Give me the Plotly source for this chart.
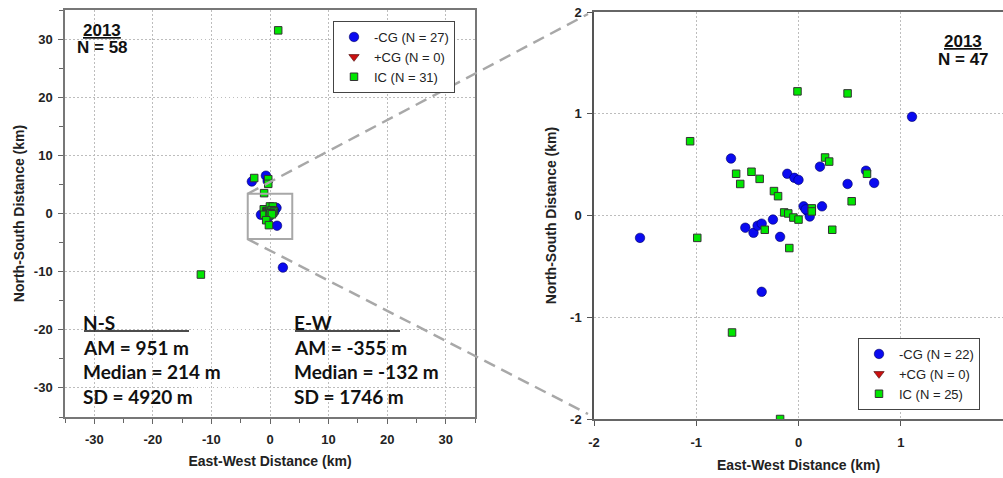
import plotly.graph_objects as go

W, H = 1003, 478

# ---------------- data (km) ----------------
# Zoomed panel (within +/-2 km): 22 -CG, 0 +CG, 25 IC
cg_zoom_x = [-0.66, -1.55, -0.52, -0.44, -0.40, -0.36, -0.25, -0.18, -0.11, -0.04, 0.00,
             1.11, 0.21, 0.66, 0.48, 0.74, 0.05, 0.09, 0.11, 0.23, -0.36, 0.07]
cg_zoom_y = [0.56, -0.22, -0.12, -0.17, -0.10, -0.08, -0.04, -0.21, 0.41, 0.37, 0.35,
             0.97, 0.48, 0.44, 0.31, 0.32, 0.09, 0.04, -0.01, 0.09, -0.75, 0.06]
pcg_zoom_x = []
pcg_zoom_y = []
ic_zoom_x = [-1.06, -0.61, -0.57, -0.46, -0.38, -0.24, -0.20, -0.14, -0.10, -0.05, 0.00,
             -0.33, -0.99, -0.09, -0.01, 0.48, 0.26, 0.30, 0.67, 0.52, 0.13, 0.13, 0.33,
             -0.65, -0.18]
ic_zoom_y = [0.73, 0.41, 0.31, 0.43, 0.36, 0.24, 0.19, 0.03, 0.02, -0.02, -0.04,
             -0.14, -0.22, -0.32, 1.22, 1.20, 0.57, 0.53, 0.41, 0.14, 0.07, 0.04, -0.14,
             -1.15, -2.00]

# Additional flashes outside the zoom window (full panel only)
cg_out_x = [-3.1, -0.7, -0.4, 1.2, 2.2]
cg_out_y = [5.5, 6.5, 5.6, -2.1, -9.3]
ic_out_x = [1.4, -11.8, -2.7, -0.3, -0.3, -1.0]
ic_out_y = [31.5, -10.5, 6.1, 5.9, 5.1, 3.5]

cg_all_x = cg_zoom_x + cg_out_x
cg_all_y = cg_zoom_y + cg_out_y
pcg_all_x = pcg_zoom_x
pcg_all_y = pcg_zoom_y
ic_all_x = ic_zoom_x + ic_out_x
ic_all_y = ic_zoom_y + ic_out_y

year = "2013"
ns_stats = ["AM = 951 m", "Median = 214 m", "SD = 4920 m"]
ew_stats = ["AM = -355 m", "Median = -132 m", "SD = 1746 m"]

left_ticks = [-30, -20, -10, 0, 10, 20, 30]
left_labels = ["-30", "-20", "-10", "0", "10", "20", "30"]
right_ticks = [-2, -1, 0, 1, 2]
right_labels = ["-2", "-1", "0", "1", "2"]

# ---------------- layout geometry ----------------
def fx(px):
    return px / W

def fy(py):
    return 1 - py / H

xd1 = [fx(65), fx(475)]
yd1 = [fy(417), fy(10)]
xd2 = [fx(594), 1.0]
yd2 = [fy(419), fy(12)]
r1 = [-35, 35]
r2 = [-2, 2]

BLUE = "#0a0af0"
GREEN = "#00e600"
RED = "#cc1010"

def pts(v):
    return v if len(v) else [None]

fig = go.Figure()

def add_set(sets, xa, ya, legend, labels):
    (cgx, cgy), (pcx, pcy), (icx, icy) = sets
    fig.add_trace(go.Scatter(x=pts(cgx), y=pts(cgy), mode="markers", name=labels[0],
                             xaxis=xa, yaxis=ya, legend=legend,
                             marker=dict(symbol="circle", size=9.5, color=BLUE,
                                         line=dict(color="#000060", width=0.6))))
    fig.add_trace(go.Scatter(x=pts(pcx), y=pts(pcy), mode="markers", name=labels[1],
                             xaxis=xa, yaxis=ya, legend=legend,
                             marker=dict(symbol="triangle-down", size=9, color=RED,
                                         line=dict(color="#400000", width=0.6))))
    fig.add_trace(go.Scatter(x=pts(icx), y=pts(icy), mode="markers", name=labels[2],
                             xaxis=xa, yaxis=ya, legend=legend,
                             marker=dict(symbol="square", size=7.5, color=GREEN,
                                         line=dict(color="#333333", width=1))))

add_set([(cg_all_x, cg_all_y), (pcg_all_x, pcg_all_y), (ic_all_x, ic_all_y)], "x", "y", "legend",
        [f"-CG (N = {len(cg_all_x)})", f"+CG (N = {len(pcg_all_x)})", f"IC (N = {len(ic_all_x)})"])
add_set([(cg_zoom_x, cg_zoom_y), (pcg_zoom_x, pcg_zoom_y), (ic_zoom_x, ic_zoom_y)], "x2", "y2", "legend2",
        [f"-CG (N = {len(cg_zoom_x)})", f"+CG (N = {len(pcg_zoom_x)})", f"IC (N = {len(ic_zoom_x)})"])

FONT = "Liberation Sans, Arial, sans-serif"
tickfont = dict(family=FONT, size=13, color="#222", weight="bold")
titlefont = dict(family=FONT, size=14, color="#222", weight="bold")
GRID = dict(showgrid=True, gridcolor="#bdbdbd", griddash="1.5px,2.5px", gridwidth=1.2, zeroline=False,
            automargin=False)

fig.update_layout(
    template="none",
    width=W, height=H,
    margin=dict(l=0, r=0, t=0, b=0, pad=0, autoexpand=False),
    paper_bgcolor="white", plot_bgcolor="white",
    showlegend=True,
    font=dict(family=FONT),
    xaxis=dict(domain=xd1, range=r1, tickvals=left_ticks, ticktext=left_labels, ticks="outside", ticklen=5,
               tickcolor="#666", linecolor="#777", linewidth=1.5, mirror=True, showline=True,
               tickfont=tickfont, anchor="y", ticklabelstandoff=5,
               minor=dict(dtick=5, tick0=0, ticks="outside", ticklen=4, tickcolor="#666", showgrid=False),
               title=dict(text="East-West Distance (km)", font=titlefont, standoff=10), **GRID),
    yaxis=dict(domain=yd1, range=r1, tickvals=left_ticks, ticktext=left_labels, ticks="outside", ticklen=5,
               tickcolor="#666", linecolor="#777", linewidth=1.5, mirror=True, showline=True,
               tickfont=tickfont, anchor="x", ticklabelstandoff=3,
               minor=dict(dtick=5, tick0=0, ticks="outside", ticklen=4, tickcolor="#666", showgrid=False),
               title=dict(text="North-South Distance (km)", font=titlefont, standoff=6), **GRID),
    xaxis2=dict(domain=xd2, range=r2, tickvals=right_ticks, ticktext=right_labels, ticks="outside", ticklen=5,
                tickcolor="#555", linecolor="#666", linewidth=1.5, mirror=True, showline=True,
                tickfont=tickfont, anchor="y2", ticklabelstandoff=6,
                title=dict(text="East-West Distance (km)", font=titlefont, standoff=11), **GRID),
    yaxis2=dict(domain=yd2, range=r2, tickvals=right_ticks, ticktext=right_labels, ticks="outside", ticklen=5,
                tickcolor="#555", linecolor="#555", linewidth=1.5, showline=True,
                tickfont=tickfont, anchor="x2", ticklabelstandoff=3,
                title=dict(text="North-South Distance (km)", font=titlefont, standoff=10), **GRID),
    legend=dict(x=fx(333), y=fy(21), xanchor="left", yanchor="top",
                bgcolor="white", bordercolor="#444", borderwidth=1,
                font=dict(family=FONT, size=13, color="#222"), itemwidth=30,
                tracegroupgap=0),
    legend2=dict(x=fx(858), y=fy(338), xanchor="left", yanchor="top",
                 bgcolor="white", bordercolor="#444", borderwidth=1,
                 font=dict(family=FONT, size=13, color="#222"), itemwidth=30,
                 tracegroupgap=0),
)

# ---------------- annotations ----------------
hdr_font = dict(family=FONT, size=17, color="#111", weight="bold")
n_all = len(cg_all_x) + len(pcg_all_x) + len(ic_all_x)
n_zoom = len(cg_zoom_x) + len(pcg_zoom_x) + len(ic_zoom_x)
for cx, cy, n in [(102, 30, n_all), (963, 42, n_zoom)]:
    fig.add_annotation(xref="paper", yref="paper", x=fx(cx), y=fy(cy), xanchor="center", yanchor="middle",
                       text=f"<u>{year}</u>", showarrow=False, font=hdr_font)
    fig.add_annotation(xref="paper", yref="paper", x=fx(cx), y=fy(cy + 17), xanchor="center", yanchor="middle",
                       text=f"N = {n}", showarrow=False, font=hdr_font)

stat_font = dict(family="Lato, Open Sans, sans-serif", size=19, color="#111", weight="bold")
for x0, head, lines in [(84, "N-S", ns_stats), (295, "E-W", ew_stats)]:
    fig.add_annotation(xref="paper", yref="paper", x=fx(x0 - 3), y=fy(322), xanchor="left", yanchor="middle",
                       text=head, showarrow=False, font=stat_font)
    fig.add_shape(type="line", xref="paper", yref="paper", x0=fx(x0), x1=fx(x0 + 105),
                  y0=fy(331), y1=fy(331), line=dict(color="#111", width=1.5))
    for i, t in enumerate(lines):
        fig.add_annotation(xref="paper", yref="paper", x=fx(x0 - 3), y=fy(347 + 24.5 * i),
                           xanchor="left", yanchor="middle", text=t, showarrow=False, font=stat_font)

# ---------------- zoom box and connector lines ----------------
bx0, bx1, by0, by1 = -3.8, 3.8, -4.4, 3.4
fig.add_shape(type="rect", xref="x", yref="y", x0=bx0, x1=bx1, y0=by0, y1=by1,
              line=dict(color="#a8a8a8", width=2), layer="above")

def lx(v):
    return xd1[0] + (v - r1[0]) / (r1[1] - r1[0]) * (xd1[1] - xd1[0])

def ly(v):
    return yd1[0] + (v - r1[0]) / (r1[1] - r1[0]) * (yd1[1] - yd1[0])

end_x = xd2[0] - 6 / W
fig.add_shape(type="line", xref="paper", yref="paper", x0=lx(bx0), y0=ly(by1), x1=end_x, y1=yd2[1] - 2 / H,
              line=dict(color="#a8a8a8", width=2.5, dash="12px,7px"))
fig.add_shape(type="line", xref="paper", yref="paper", x0=lx(bx0), y0=ly(by0), x1=end_x, y1=yd2[0] + 5 / H,
              line=dict(color="#a8a8a8", width=2.5, dash="12px,7px"))

fig.write_html("out.html")
